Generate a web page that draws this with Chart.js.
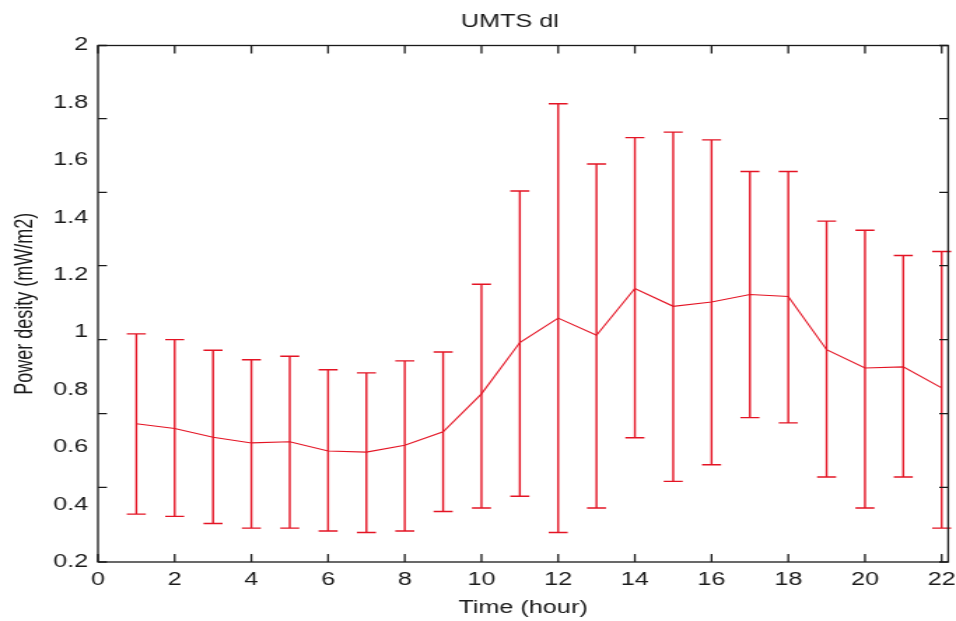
<!DOCTYPE html>
<html>
<head>
<meta charset="utf-8">
<script src="https://cdn.jsdelivr.net/npm/chart.js@4/dist/chart.umd.min.js"></script>
<style>
  html, body { margin: 0; padding: 0; background: #fff; }
</style>
</head>
<body>
<canvas id="c" width="683" height="621" style="display:block;width:956px;height:621px"></canvas>
<script>
// ---- data ----
const hours = [1,2,3,4,5,6,7,8,9,10,11,12,13,14,15,16,17,18,19,20,21,22];
const meanVals  = [0.682,0.665,0.635,0.615,0.619,0.587,0.583,0.607,0.654,0.786,0.965,1.050,0.990,1.153,1.091,1.106,1.132,1.125,0.940,0.876,0.880,0.807];
const upperVals = [0.995,0.975,0.938,0.905,0.917,0.870,0.859,0.901,0.932,1.168,1.493,1.797,1.587,1.679,1.698,1.671,1.561,1.561,1.388,1.356,1.268,1.282];
const lowerVals = [0.367,0.359,0.334,0.318,0.318,0.308,0.303,0.308,0.376,0.388,0.429,0.303,0.388,0.633,0.481,0.539,0.703,0.685,0.496,0.388,0.496,0.318];
const xTickValues = [0,2,4,6,8,10,12,14,16,18,20,22];
const yTickValues = [0.2,0.4,0.6,0.8,1,1.2,1.4,1.6,1.8,2];
const yTickLabels = ['0.2','0.4','0.6','0.8','1','1.2','1.4','1.6','1.8','2'];
const yTickMarks = [0.2,0.46,0.717,0.975,1.233,1.488,1.745,2.0];
const xRange = [0, 22.17];
const yRange = [0.2, 2];
const titleText = 'UMTS dl';
const xTitle = 'Time (hour)';
const yTitle = 'Power desity (mW/m2)';

const RED = 'rgb(228,20,36)';
const INK = '#1a1a1a';
const FONT = '"Liberation Sans", Arial, Helvetica, sans-serif';

const errorBars = {
  id: 'errorBars',
  afterDatasetsDraw(chart) {
    const {ctx, scales: {x, y}} = chart;
    ctx.save();
    ctx.strokeStyle = RED;
    ctx.lineWidth = 1.4;
    const cap = 6.8;
    hours.forEach((h, i) => {
      const px = x.getPixelForValue(h);
      const pu = y.getPixelForValue(upperVals[i]);
      const pl = y.getPixelForValue(lowerVals[i]);
      ctx.beginPath();
      ctx.moveTo(px, pu); ctx.lineTo(px, pl);
      ctx.moveTo(px - cap, pu); ctx.lineTo(px + cap, pu);
      ctx.moveTo(px - cap, pl); ctx.lineTo(px + cap, pl);
      ctx.stroke();
    });
    ctx.restore();
  }
};

const frame = {
  id: 'frame',
  afterDraw(chart) {
    const {ctx, chartArea: a, scales: {x, y}} = chart;
    ctx.save();
    ctx.strokeStyle = INK;
    ctx.lineWidth = 1.3;
    ctx.strokeRect(a.left, a.top, a.right - a.left, a.bottom - a.top);
    ctx.beginPath();
    const tx = 8, ty = 6.4;
    xTickValues.forEach(v => {
      const p = x.getPixelForValue(v);
      ctx.moveTo(p, a.bottom); ctx.lineTo(p, a.bottom - tx);
      ctx.moveTo(p, a.top); ctx.lineTo(p, a.top + tx);
    });
    yTickMarks.forEach(v => {
      const p = y.getPixelForValue(v);
      ctx.moveTo(a.left, p); ctx.lineTo(a.left + ty, p);
      ctx.moveTo(a.right, p); ctx.lineTo(a.right - ty, p);
    });
    ctx.stroke();
    // title
    ctx.fillStyle = INK;
    ctx.font = '18px ' + FONT;
    ctx.textAlign = 'center';
    ctx.textBaseline = 'middle';
    ctx.fillText(titleText, a.left + (a.right - a.left) * 0.4845, 22);
    ctx.restore();
  }
};

new Chart(document.getElementById('c'), {
  type: 'line',
  data: {
    datasets: [{
      data: hours.map((h, i) => ({x: h, y: meanVals[i]})),
      borderColor: RED,
      borderWidth: 1.1,
      pointRadius: 0,
      tension: 0,
      fill: false
    }]
  },
  options: {
    responsive: false,
    devicePixelRatio: 1,
    animation: false,
    layout: { padding: { top: 45.5, left: 0, right: 5.6, bottom: 0 } },
    plugins: { legend: { display: false }, tooltip: { enabled: false } },
    scales: {
      x: {
        type: 'linear',
        min: xRange[0], max: xRange[1],
        afterBuildTicks: s => { s.ticks = xTickValues.map(v => ({value: v})); },
        afterFit: s => { s.height = 59; s.paddingLeft = 0; s.paddingRight = 0; },
        grid: { display: false, drawTicks: false },
        border: { display: false },
        ticks: { color: INK, font: { size: 18, family: FONT }, padding: 7, maxRotation: 0, autoSkip: false },
        title: { display: true, text: xTitle, color: INK, font: { size: 18, family: FONT }, padding: { top: 0, bottom: 2 } }
      },
      y: {
        type: 'linear',
        min: yRange[0], max: yRange[1],
        afterBuildTicks: s => { s.ticks = yTickValues.map(v => ({value: v})); },
        afterFit: s => { s.width = 70; s.paddingTop = 0; s.paddingBottom = 0; },
        grid: { display: false, drawTicks: false },
        border: { display: false },
        ticks: { color: INK, font: { size: 18, family: FONT }, padding: 7, autoSkip: false,
                 callback: (v, i) => yTickLabels[i] },
        title: { display: true, text: yTitle, color: INK, font: { size: 18, family: FONT }, padding: { top: 7, bottom: 0 } }
      }
    }
  },
  plugins: [errorBars, frame]
});
</script>
</body>
</html>
